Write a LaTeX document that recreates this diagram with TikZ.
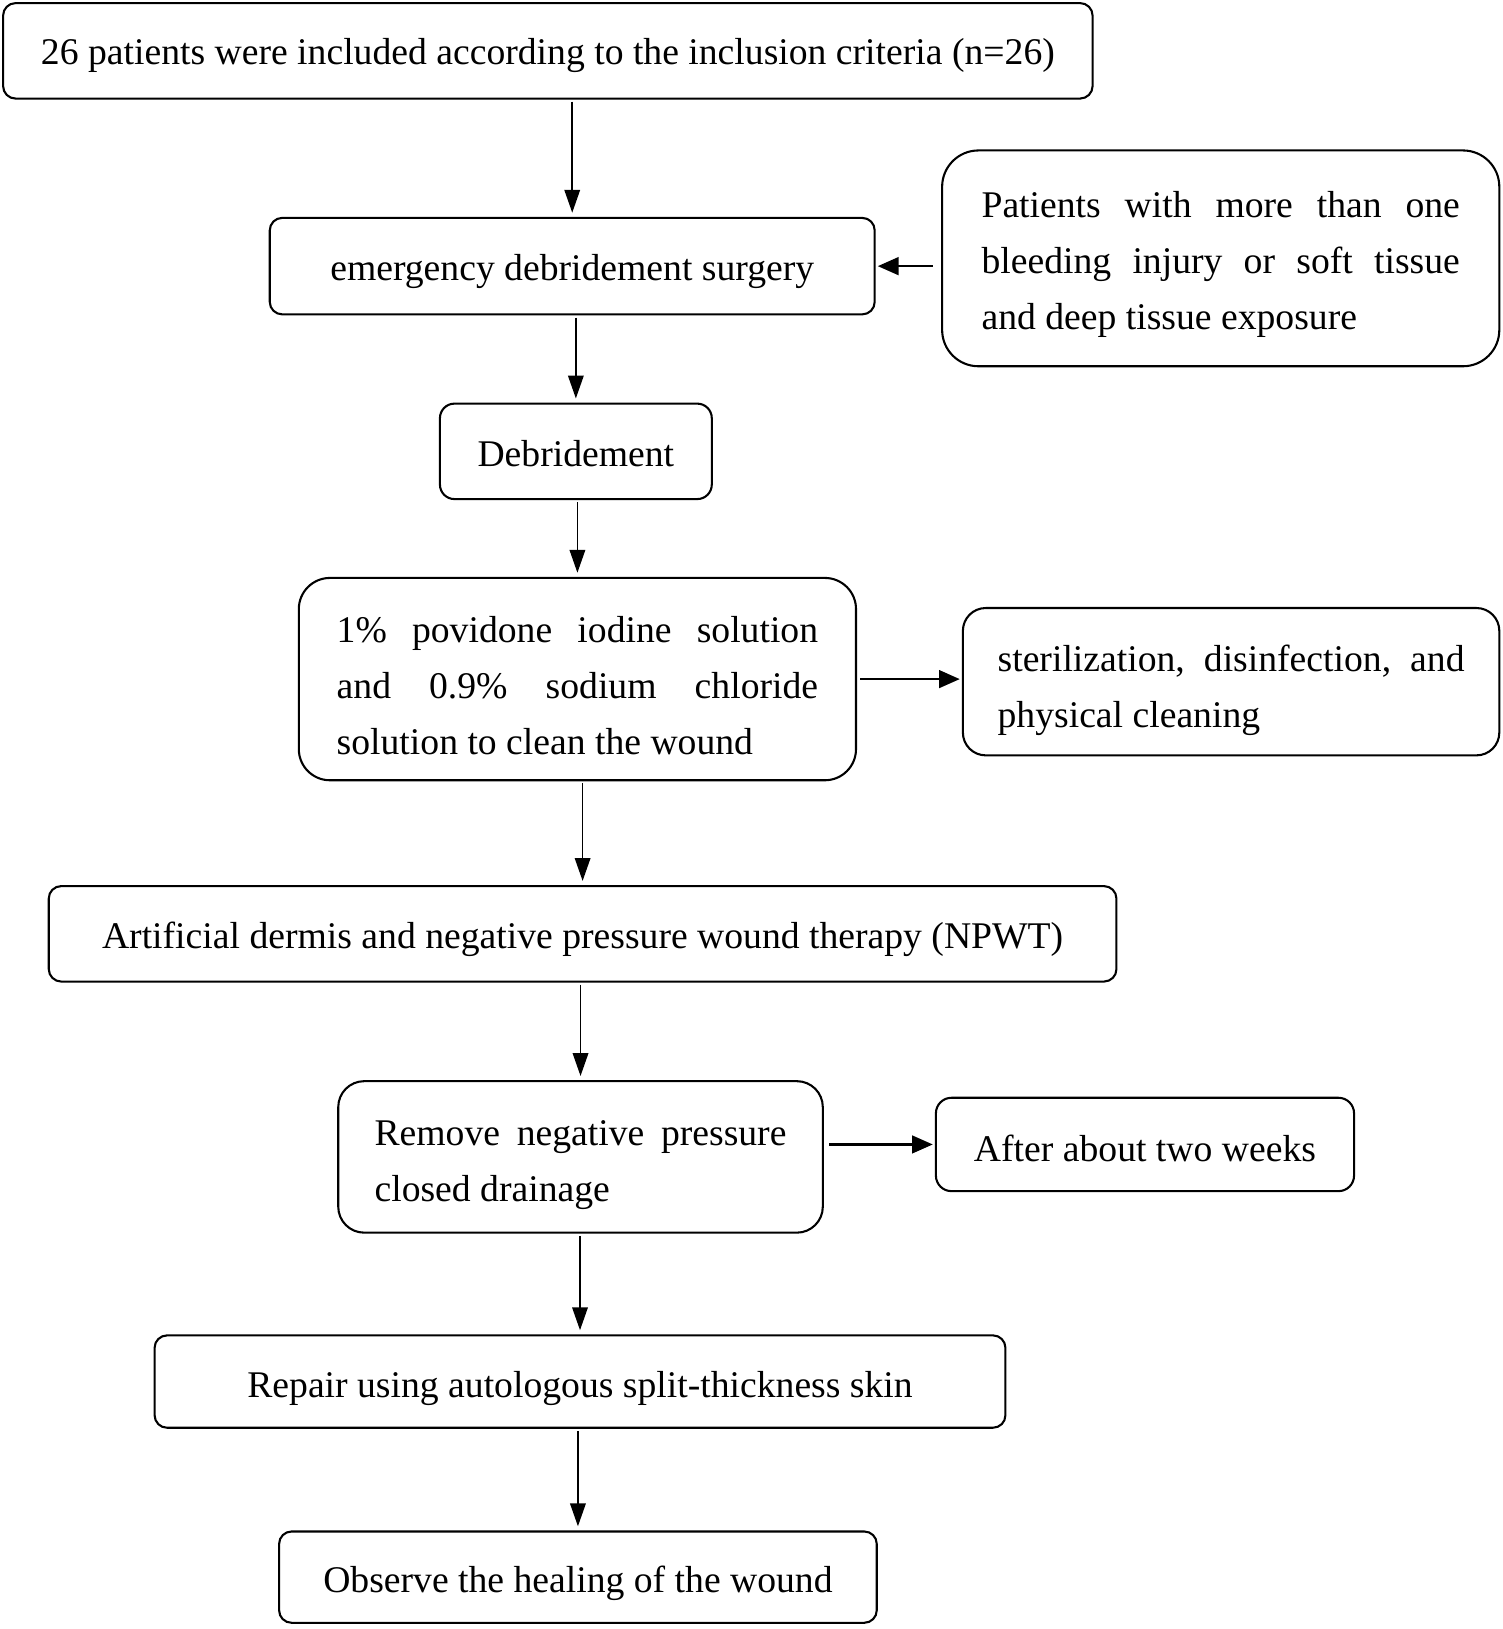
\documentclass[tikz,border=0pt]{standalone}
\usepackage{fontspec}
\setmainfont{Liberation Serif}
\usetikzlibrary{arrows.meta}
\tikzset{
  box/.style={draw, line width=2pt, inner sep=0pt, rounded corners=#1,
    font=\fontsize{36.3}{54}\selectfont, align=center},
  box/.default=12pt,
  varr/.style={line width=1.5pt, -{Triangle[length=22pt,width=15pt]},
    shorten >=4pt, shorten <=2pt},
  harr/.style={line width=2.5pt, -{Triangle[length=20pt,width=17pt]},
    shorten >=2pt, shorten <=3pt},
}
\newcommand{\jline}[2]{\makebox[#1][s]{#2}}
\newcommand{\lline}[2]{\makebox[#1][l]{#2}}
% text block lowered by #1 inside its box, size unchanged
\newcommand{\tx}[2]{\raisebox{-#1}[\height][\depth]{\begin{tabular}{@{}c@{}}#2\end{tabular}}}
\begin{document}
\begin{tikzpicture}[x=1pt,y=-1pt]
\useasboundingbox (0,0) rectangle (1448,1570);

\node[box, minimum width=1050pt, minimum height=92pt] (b1) at (528,49)
  {\tx{2pt}{26 patients were included according to the inclusion criteria (n=26)}};
\node[box, minimum width=583pt, minimum height=93pt] (b2) at (551.5,256.5)
  {\tx{2.8pt}{emergency debridement surgery}};
\node[box=35pt, minimum width=537pt, minimum height=208pt] (pat) at (1176.5,249)
  {\tx{3.8pt}{\jline{461pt}{Patients with more than one}\\
   \jline{461pt}{bleeding injury or soft tissue}\\
   \lline{461pt}{and deep tissue exposure}}};
\node[box=14pt, minimum width=262pt, minimum height=92pt] (b3) at (555,435)
  {\tx{3.7pt}{Debridement}};
\node[box=30pt, minimum width=537pt, minimum height=195pt] (b4) at (556.5,654.5)
  {\tx{7.5pt}{\jline{464pt}{1\% povidone iodine solution}\\
   \jline{464pt}{and 0.9\% sodium chloride}\\
   \lline{464pt}{solution to clean the wound}}};
\node[box=22pt, minimum width=517pt, minimum height=142pt] (b5) at (1186.5,657)
  {\tx{6.8pt}{\jline{450pt}{sterilization, disinfection, and}\\
   \lline{450pt}{physical cleaning}}};
\node[box, minimum width=1029pt, minimum height=92pt] (b6) at (561.5,900)
  {\tx{3.8pt}{Artificial dermis and negative pressure wound therapy (NPWT)}};
\node[box=25pt, minimum width=467pt, minimum height=146pt] (b7) at (559.5,1115)
  {\tx{5.2pt}{\jline{397pt}{Remove negative pressure}\\
   \lline{397pt}{closed drainage}}};
\node[box=15pt, minimum width=403pt, minimum height=90pt] (b8) at (1103.5,1103)
  {\tx{5.7pt}{After about two weeks}};
\node[box, minimum width=820pt, minimum height=89pt] (b9) at (559,1331.5)
  {\tx{4.8pt}{Repair using autologous split-thickness skin}};
\node[box, minimum width=576pt, minimum height=88pt] (b10) at (557,1520)
  {\tx{3.8pt}{Observe the healing of the wound}};

\draw[varr] (b1.south -| b2.north) -- (b2.north);
\draw[varr] (b2.south -| b3.north) -- (b3.north);
\draw[varr] (b3.south -| b4.north) -- (b4.north);
\draw[varr] (b4.south -| b6.north) -- (b6.north);
\draw[varr] (b6.south -| b7.north) -- (b7.north);
\draw[varr] (b7.south -| b9.north) -- (b9.north);
\draw[varr] (b9.south -| b10.north) -- (b10.north);

\draw[harr, shorten <=8pt] (pat.west |- b2.east) -- (b2.east);
\draw[harr] (b4.east) -- (b4.east -| b5.west);
\draw[harr, shorten <=5pt] (b7.east |- b8.west) -- (b8.west);
\end{tikzpicture}
\end{document}
